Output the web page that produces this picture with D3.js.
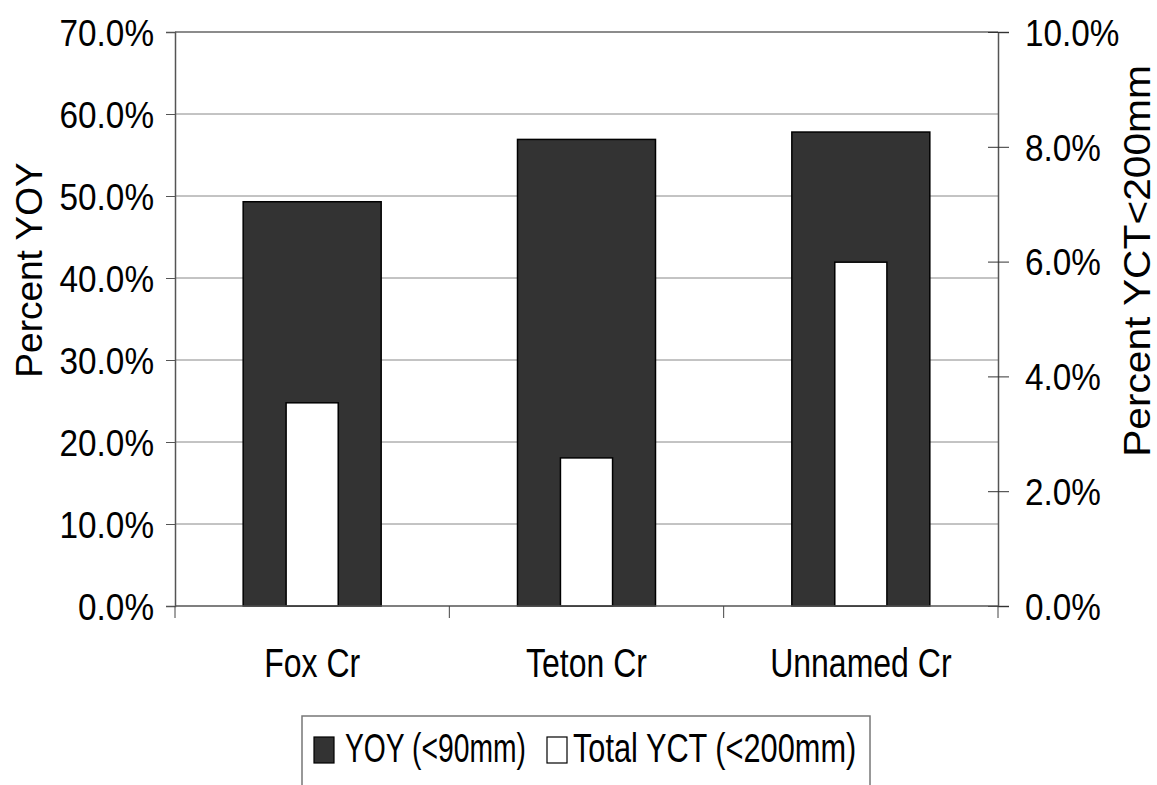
<!DOCTYPE html>
<html>
<head>
<meta charset="utf-8">
<script src="https://cdn.jsdelivr.net/npm/d3@7"></script>
<style>
  body { margin: 0; background: #fff; }
  svg { display: block; font-family: "Liberation Sans", Arial, sans-serif; }
</style>
</head>
<body>
<svg width="1157" height="785"></svg>
<script>
const creeks = ["Fox Cr", "Teton Cr", "Unnamed Cr"];
const yoy = [0.493, 0.569, 0.578];      // left axis, YOY (<90mm)
const yct = [0.0354, 0.0258, 0.0599];   // right axis, Total YCT (<200mm)
const leftTicks = [0, 0.1, 0.2, 0.3, 0.4, 0.5, 0.6, 0.7];
const rightTicks = [0, 0.02, 0.04, 0.06, 0.08, 0.10];
const legendLabels = ["YOY (<90mm)", "Total YCT (<200mm)"];

const svg = d3.select("svg");
const plotLeft = 175, plotRight = 998, plotTop = 32, plotBottom = 606;

const x = d3.scaleBand().domain(creeks).range([plotLeft, plotRight]);
const yL = d3.scaleLinear().domain([0, 0.7]).range([plotBottom, plotTop]);
const yR = d3.scaleLinear().domain([0, 0.1]).range([plotBottom, plotTop]);
const pct = d3.format(".1%");

// squeeze text horizontally, the original uses a tight condensed rendering
function squeeze(sel, k) {
    sel.each(function () {
        const w = this.getComputedTextLength();
        d3.select(this).attr("textLength", w * k).attr("lengthAdjust", "spacingAndGlyphs");
    });
}

// gridlines
svg.append("g")
    .selectAll("line")
    .data(leftTicks.slice(1))
    .join("line")
    .attr("x1", plotLeft).attr("x2", plotRight)
    .attr("y1", d => yL(d)).attr("y2", d => yL(d))
    .attr("stroke", d => d === 0.7 ? "#8c8c8c" : "#888")
    .attr("stroke-width", d => d === 0.7 ? 2 : 1);

// bars
const g = svg.append("g");
g.selectAll(".yoy")
    .data(creeks)
    .join("rect")
    .attr("class", "yoy")
    .attr("x", d => x(d) + x.bandwidth() * 0.2485)
    .attr("width", x.bandwidth() * 0.503)
    .attr("y", (d, i) => yL(yoy[i]))
    .attr("height", (d, i) => plotBottom - yL(yoy[i]))
    .attr("fill", "#333333")
    .attr("stroke", "#000")
    .attr("stroke-width", 1.5);

g.selectAll(".yct")
    .data(creeks)
    .join("rect")
    .attr("class", "yct")
    .attr("x", d => x(d) + x.bandwidth() * 0.405)
    .attr("width", x.bandwidth() * 0.19)
    .attr("y", (d, i) => yR(yct[i]))
    .attr("height", (d, i) => plotBottom - yR(yct[i]))
    .attr("fill", "#fff")
    .attr("stroke", "#000")
    .attr("stroke-width", 1.5);

// left axis
const axL = svg.append("g")
    .attr("transform", `translate(${plotLeft},0)`)
    .call(d3.axisLeft(yL).tickValues(leftTicks).tickFormat(pct).tickSize(9).tickPadding(12));
axL.select(".domain").attr("stroke", "#555").attr("stroke-width", 1.5);
axL.selectAll(".tick line").attr("stroke", "#555");
axL.selectAll("text")
    .attr("font-size", 37).attr("fill", "#000").attr("font-family", "Liberation Sans, Arial")
    .attr("dy", "0.36em")
    .call(squeeze, 0.9);

// right axis
const axR = svg.append("g")
    .attr("transform", `translate(${plotRight},0)`)
    .call(d3.axisRight(yR).tickValues(rightTicks).tickFormat(pct).tickSize(11).tickPadding(16));
axR.select(".domain").attr("stroke", "#555").attr("stroke-width", 1.5);
axR.selectAll(".tick line").attr("x1", -10).attr("stroke", "#333");
axR.selectAll("text")
    .attr("font-size", 37).attr("fill", "#000").attr("font-family", "Liberation Sans, Arial")
    .attr("dy", "0.36em")
    .call(squeeze, 0.9);

// x axis
svg.append("line")
    .attr("x1", plotLeft).attr("x2", plotRight)
    .attr("y1", plotBottom).attr("y2", plotBottom)
    .attr("stroke", "#555").attr("stroke-width", 1.5);
const bounds = creeks.map(d => x(d)).concat([plotRight]);
svg.append("g")
    .selectAll("line")
    .data(bounds)
    .join("line")
    .attr("x1", d => d).attr("x2", d => d)
    .attr("y1", plotBottom).attr("y2", plotBottom + 12)
    .attr("stroke", "#444");
svg.append("g")
    .selectAll("text")
    .data(creeks)
    .join("text")
    .attr("x", d => x(d) + x.bandwidth() / 2)
    .attr("y", 677)
    .attr("text-anchor", "middle")
    .attr("font-size", 40)
    .text(d => d)
    .call(squeeze, 0.8);

// axis titles
svg.append("text")
    .attr("transform", "translate(42,270) rotate(-90)")
    .attr("text-anchor", "middle")
    .attr("font-size", 37)
    .text("Percent YOY");
svg.append("text")
    .attr("transform", "translate(1150,261) rotate(-90)")
    .attr("text-anchor", "middle")
    .attr("font-size", 37)
    .text("Percent YCT<200mm")
    .call(squeeze, 1.1);

// legend
const lg = svg.append("g");
lg.append("rect")
    .attr("x", 302).attr("y", 716)
    .attr("width", 568).attr("height", 100)
    .attr("fill", "#fff").attr("stroke", "#777").attr("stroke-width", 1.5);
const swatchX = [314, 547];
const textX = [345, 573];
const squeezeK = [0.69, 0.75];
const fills = ["#333333", "#fff"];
legendLabels.forEach((t, i) => {
    lg.append("rect")
        .attr("x", swatchX[i]).attr("y", 737)
        .attr("width", 20).attr("height", 26)
        .attr("fill", fills[i]).attr("stroke", "#000").attr("stroke-width", 1.2);
    lg.append("text")
        .attr("transform", `translate(${textX[i]},762) scale(${squeezeK[i]},1)`)
        .attr("font-size", 41)
        .text(t);
});
</script>
</body>
</html>
